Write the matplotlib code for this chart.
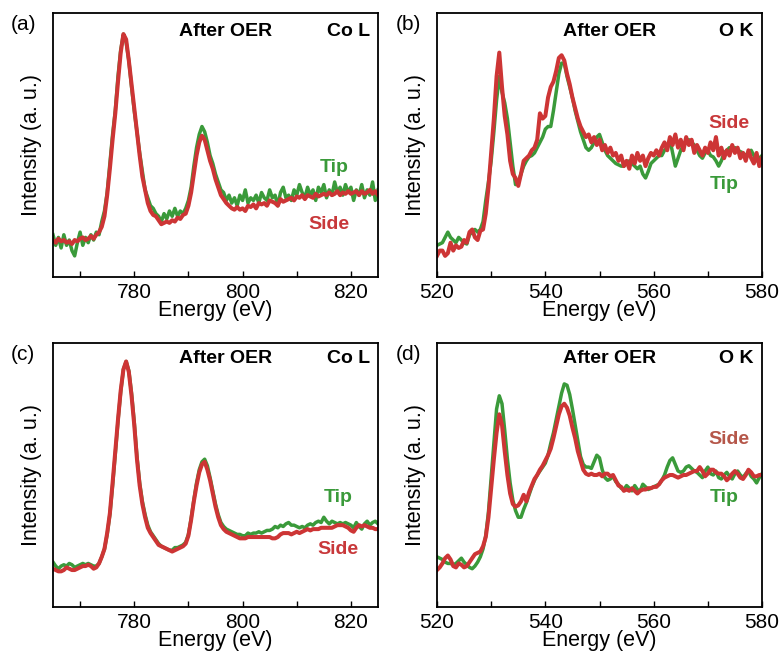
import numpy as np
import matplotlib
matplotlib.use("Agg")
from matplotlib import pyplot
from matplotlib.ticker import MultipleLocator

# energy grids (eV), 0.5 eV steps
energy_co = np.arange(765.0, 825.25, 0.5)
energy_o = np.arange(520.0, 580.25, 0.5)

# intensities in % of the plot height (a. u.)
# (a) Co L edge
tip_a = [16, 12, 15, 11, 16, 12, 14, 10, 8, 13,
         17, 12, 15, 13, 16, 14, 17, 16, 21, 25,
         32, 43, 54, 63, 76, 86, 92, 89, 82, 72,
         63, 55, 47, 40, 33, 30, 27, 26, 24, 23,
         21, 24, 22, 25, 23, 26, 23, 25, 24, 26,
         29, 34, 42, 49, 54, 57, 55, 51, 46, 43,
         39, 36, 33, 32, 29, 31, 28, 30, 27, 31,
         29, 33, 28, 30, 29, 31, 28, 32, 30, 29,
         33, 30, 31, 27, 32, 34, 30, 31, 29, 33,
         31, 35, 32, 30, 34, 31, 33, 29, 34, 32,
         35, 30, 33, 31, 36, 32, 34, 31, 35, 32,
         34, 29, 33, 31, 35, 30, 33, 31, 36, 29,
         33]
side_a = [14, 13, 14.5, 13.5, 14, 13, 13.5, 12.5, 14, 13.5,
          14.5, 15, 14, 14.5, 15.5, 14.5, 16, 17, 19, 23,
          31, 41, 52, 62, 74, 85, 92, 90, 82, 73,
          64, 55, 46, 38, 33, 28, 25, 23.5, 23, 21.5,
          20, 20.5, 21, 20.5, 21.5, 21, 22.5, 22, 23.5, 24,
          27, 32, 39, 46, 51, 53.5, 52, 48, 44, 41,
          37, 34, 31, 29.5, 28, 27, 26, 25.5, 26.5, 25.5,
          26, 25, 27, 26.5, 27.5, 26, 28, 27.5, 28, 27,
          29, 28.5, 28, 27, 29.5, 28.5, 29, 29.5, 30, 29,
          30.5, 30, 31, 29.5, 31, 30.5, 30, 31.5, 30.5, 31,
          31.5, 31, 32, 31, 31.5, 32.5, 31, 32, 31.5, 32.5,
          31.5, 32, 32.5, 31, 32.5, 31.5, 32, 33, 31.5, 32.5,
          31]

# (b) O K edge
tip_b = [12, 12.5, 13, 15, 17, 15, 14, 13, 15, 14,
         13, 12.5, 16, 17, 18, 17, 18, 21, 29, 36,
         44, 55, 67, 76, 70, 66, 60, 51, 42, 35,
         36, 39, 42, 44, 45.5, 46, 47, 49, 51, 53,
         56, 57, 57, 63, 70, 77, 81, 81, 76, 72,
         68, 63, 59, 55, 52, 49, 48, 49, 51, 53,
         54, 51, 48, 46, 45, 44, 43, 42.5, 42, 42,
         43, 44, 43, 42, 41, 42, 39, 37.5, 40, 43,
         44, 45, 46, 46, 48, 49, 52, 47, 42, 45,
         48, 50, 51, 52, 51, 50, 48, 46, 45, 47,
         48, 46, 45.5, 44, 42, 44, 47, 48, 49, 49,
         49, 48, 47.5, 47, 46, 47, 48, 46, 44, 45,
         46]
side_b = [8, 10, 10, 8, 9, 13, 10, 12, 11, 11.5,
          14, 13, 17, 18, 15, 14, 17.5, 18, 24, 34,
          47, 60, 76, 85, 72, 61, 54, 44, 39, 37.5,
          34.5, 39, 44, 45, 46, 48, 49, 52, 62, 60,
          61, 68, 72, 74, 78, 83, 84, 82, 77, 73,
          68, 64, 60, 57, 55, 53, 54, 51, 53, 50,
          52, 48, 50, 47, 49, 46, 47, 44, 46, 42,
          44, 41, 46, 43, 47, 44, 46, 42, 45, 47,
          46, 48, 46, 49, 51, 48, 53, 50, 54, 49,
          52, 48, 53, 50, 52, 47, 50, 48, 46, 49,
          47, 51, 48, 53, 46, 49, 45, 48, 46, 50,
          47, 49, 45, 47, 44, 48, 45, 43, 47, 42,
          45]

# (c) Co L edge
tip_c = [17, 15.5, 14.5, 15.5, 16, 15.5, 16.5, 16, 15, 15.5,
         16, 16.5, 16, 16.5, 16, 15.5, 15.5, 16.5, 19, 22,
         27.5, 35, 46, 58, 70.5, 81.5, 90, 93, 89.5, 81,
         70, 57, 47, 40, 35, 31, 28.5, 27, 25.5, 24,
         23, 22.5, 22, 21.5, 21.5, 22.5, 22.5, 23, 23.5, 24.5,
         27.5, 33.5, 40.5, 47, 52, 55, 56, 53.5, 49, 44,
         39, 35, 32, 30.5, 29.5, 29, 28.5, 28, 27.5, 27.5,
         27, 27, 28, 27.5, 28, 28, 28.5, 28, 28.5, 29,
         29, 29.5, 30.5, 30, 31, 30.5, 31.5, 32, 31, 31,
         30.5, 30, 30.5, 30, 31, 31.5, 31, 32, 32.5, 32,
         34, 32.5, 31.5, 32.5, 32, 31.5, 32, 31.5, 32, 31.5,
         31, 30, 32, 30.5, 29.5, 31.5, 32.5, 31, 32, 32.5,
         31.5]
side_c = [14.5, 14, 13.5, 13.5, 14, 15, 14.5, 14, 14, 14.5,
          15, 15.5, 15.5, 16, 15.5, 14.5, 15, 16.5, 19, 22,
          28, 35.5, 47, 59, 71, 82, 90, 93, 89, 80,
          69, 56, 46, 39, 34, 30, 28, 26.5, 25, 23.5,
          23, 22.5, 22, 21.5, 21, 21.5, 22, 22.5, 23, 24,
          27, 33, 40, 46, 51, 54, 55, 52, 48, 43,
          38, 34, 31, 29.5, 28.5, 28, 27.5, 27, 26.5, 26,
          26, 26, 26.5, 26.5, 26.5, 26.5, 26.5, 26.5, 26.5, 26.5,
          26.5, 26, 26, 26.5, 27.5, 28, 28, 28, 27.5, 28,
          28.5, 28, 28.5, 29, 29.5, 29, 29.5, 29.5, 29.5, 30,
          30, 30, 30, 30, 30.5, 31, 31, 31, 30.5, 30,
          29, 28.5, 30, 31, 30.5, 31, 30.5, 30, 30, 29.5,
          29.5]

# (d) O K edge
tip_d = [19, 18.5, 18, 17, 16.5, 16.5, 16, 16.5, 17.5, 18.5,
         17, 16, 15, 14.5, 15.5, 17, 19, 22, 27, 36,
         49, 62, 75, 80, 77, 67, 56, 47, 40.5, 36.5,
         34, 34, 37, 39.5, 42.5, 45.5, 48, 50, 51.5, 53,
         54.5, 57.5, 62, 66, 71, 76, 81, 84.5, 84, 80.5,
         75, 69, 63, 57, 54, 53, 53, 52.5, 55, 57.5,
         56.5, 52, 49, 48, 48.5, 49.5, 47.5, 46.5, 45, 44.5,
         46, 45, 44, 46, 44.5, 44, 46.5, 45.5, 44.5, 45,
         45.5, 46, 46.5, 48, 50, 53, 55.5, 56.5, 54, 51.5,
         51, 51.5, 53, 53.5, 52.5, 51.5, 51, 50, 49, 51.5,
         53, 50.5, 50, 51.5, 49, 48.5, 50, 51, 49.5, 48.5,
         50.5, 51.5, 50, 49, 50.5, 51.5, 49.5, 48.5, 47, 49,
         50.5]
side_d = [14, 15, 16.5, 18.5, 19.5, 18, 15.5, 15, 16.5, 16,
          15, 15.5, 17, 18.5, 20, 20.5, 21, 23, 26.5, 34,
          45, 56, 66, 73, 69, 59, 50, 43, 39, 38,
          38.5, 40, 42.5, 40, 43.5, 46, 48.5, 50, 52, 53.5,
          55.5, 57.5, 60, 64, 68.5, 73, 76, 77, 75.5, 72.5,
          68, 64, 59, 55.5, 52, 50.5, 50, 50.5, 50, 50,
          50.5, 49.5, 50.5, 50.5, 49.5, 50, 48, 46, 45.5, 44,
          44.5, 44, 45, 44, 43, 44, 44.5, 44.5, 45, 45,
          45.5, 45.5, 46.5, 48, 49, 49.5, 50, 50, 49.5, 49,
          49.5, 50, 50, 50.5, 51, 51.5, 51.5, 53, 51.5, 49.5,
          50.5, 52, 52, 51, 50.5, 50.5, 49.5, 48, 49, 50.5,
          51.5, 50.5, 49, 48.5, 50, 52, 51, 49.5, 49.5, 50,
          50]

TIP_LINE = "#3a9a3a"
SIDE_LINE = "#cd3535"
TIP_TEXT = "#3a9a3a"
SIDE_TEXT = "#c8383a"

pyplot.rcParams["font.family"] = ["Liberation Sans", "DejaVu Sans"]


def panel(fig, rect, energy, tip, side, xlim, edge, letter, letter_xy,
          top_y, tip_xy, side_xy, side_color=SIDE_TEXT):
    ax = fig.add_axes(rect)
    ax.plot(energy, tip, color=TIP_LINE, lw=2.5)
    ax.plot(energy, side, color=SIDE_LINE, lw=2.9)
    ax.set_xlim(*xlim)
    ax.set_ylim(0, 100)
    ax.xaxis.set_major_locator(MultipleLocator(20))
    ax.xaxis.set_minor_locator(MultipleLocator(10))
    ax.tick_params(axis="x", which="both", direction="in", length=4,
                   width=1, labelsize=15, pad=4)
    ax.set_yticks([])
    for sp in ax.spines.values():
        sp.set_linewidth(1.3)
    ax.set_xlabel("Energy (eV)", fontsize=15.5, labelpad=-1)
    ax.set_ylabel("Intensity (a. u.)", fontsize=15.5, labelpad=8)

    ax.text(0.532, top_y, "After OER", transform=ax.transAxes, ha="center",
            va="center", fontsize=14, fontweight="bold")
    ax.text(0.975, top_y, edge, transform=ax.transAxes, ha="right",
            va="center", fontsize=14, fontweight="bold")
    ax.text(*tip_xy, "Tip", transform=ax.transAxes, ha="center",
            va="center", fontsize=14, fontweight="bold", color=TIP_TEXT)
    ax.text(*side_xy, "Side", transform=ax.transAxes, ha="center",
            va="center", fontsize=14, fontweight="bold", color=side_color)
    fig.text(letter_xy[0] / 783, 1 - letter_xy[1] / 653, letter,
             fontsize=15, va="center", ha="left")
    return ax


fig = pyplot.figure(figsize=(7.83, 6.53), dpi=100)
w, h = 325 / 783, 264 / 653
left1, left2 = 53 / 783, 437 / 783
top_row, bottom_row = 376 / 653, 46 / 653

panel(fig, [left1, top_row, w, h], energy_co, tip_a, side_a, (765, 825),
      "Co L", "(a)", (11, 25), 0.93, (0.865, 0.413), (0.85, 0.2))
panel(fig, [left2, top_row, w, h], energy_o, tip_b, side_b, (520, 580),
      "O K", "(b)", (396, 24), 0.93, (0.883, 0.352), (0.899, 0.583))
panel(fig, [left1, bottom_row, w, h], energy_co, tip_c, side_c, (765, 825),
      "Co L", "(c)", (11, 354), 0.943, (0.876, 0.415), (0.876, 0.216))
panel(fig, [left2, bottom_row, w, h], energy_o, tip_d, side_d, (520, 580),
      "O K", "(d)", (396, 354), 0.943, (0.883, 0.413), (0.899, 0.633),
      side_color="#b5574a")

fig.savefig("out.png", dpi=100)
